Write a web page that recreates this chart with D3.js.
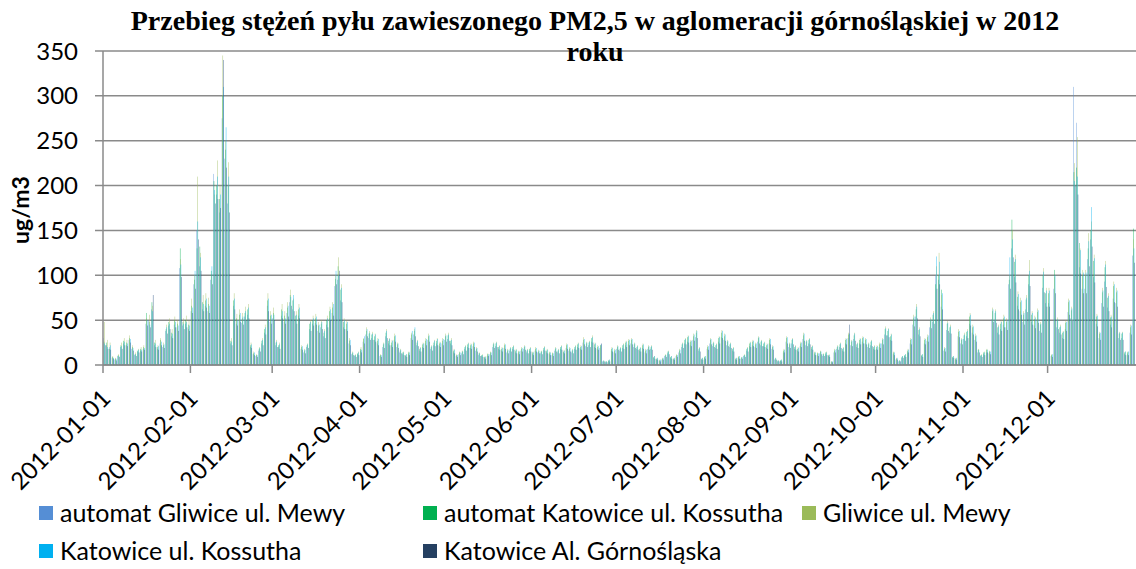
<!DOCTYPE html>
<html>
<head>
<meta charset="utf-8">
<script src="https://cdn.jsdelivr.net/npm/d3@7"></script>
<style>
  body { margin: 0; background: #fff; }
  svg { display: block; }
</style>
</head>
<body>
<svg id="chart" width="1136" height="569"></svg>
<script>
// daily PM2.5 [ug/m3], 2012-01-01 .. 2012-12-31, one row per month
const gliwiceAuto = [
  30,22,20,8,6,10,20,24,22,28,18,11,15,16,18,46,50,62,22,18,24,20,38,44,32,45,42,108,44,46,40,
  60,90,150,110,62,66,60,95,213,190,170,275,230,180,24,66,46,50,47,54,56,20,12,10,16,24,36,66,48,
  52,22,20,55,48,58,70,62,50,55,18,14,20,40,46,47,38,42,32,45,52,58,88,95,72,42,40,24,12,10,12,
  16,26,34,30,30,28,24,10,20,32,24,22,28,20,14,12,10,12,30,34,22,16,20,24,28,18,22,24,21,24,
  28,29,24,14,10,12,13,18,20,19,21,16,11,10,8,10,12,20,21,18,16,19,14,16,18,14,13,16,18,14,16,
  12,16,14,13,17,14,12,11,16,14,18,14,19,16,14,18,20,18,25,21,22,26,20,18,19,4,3,5,16,14,
  18,16,19,22,23,24,20,18,16,19,14,18,18,8,6,5,6,10,13,8,6,10,14,20,24,26,22,28,31,16,6,
  8,18,24,21,19,26,31,28,22,20,16,6,8,7,10,16,21,22,20,26,22,21,19,24,18,6,4,5,14,26,20,
  24,18,16,21,29,22,24,18,12,11,13,10,12,10,3,14,18,20,16,24,30,22,29,20,24,26,24,20,22,18,
  18,20,24,34,33,28,12,6,4,8,10,14,24,45,54,34,10,24,27,42,48,100,95,65,16,39,36,8,6,32,24,
  29,32,46,36,28,14,10,12,14,13,51,50,36,40,45,42,90,130,98,66,60,48,62,90,48,44,50,38,86,69,
  69,10,85,42,36,30,40,59,52,310,270,109,85,85,118,140,98,46,30,69,93,64,45,74,69,30,30,12,12,36,122
];
const katowiceAuto = [
  26,25,18,9,7,11,22,27,25,30,20,12,16,18,20,58,48,70,25,20,28,22,40,48,36,50,46,130,48,50,45,
  66,95,130,132,70,72,68,105,205,200,185,300,240,200,27,72,52,56,52,58,62,22,13,11,18,27,40,72,55,
  58,25,22,62,55,64,78,72,55,62,20,16,22,46,50,52,44,46,36,50,60,64,96,110,84,48,46,27,13,11,13,
  18,29,38,35,34,32,27,11,23,36,27,25,32,23,16,14,11,14,34,38,25,18,23,27,32,20,25,27,24,27,
  32,33,27,16,11,14,15,20,23,22,24,18,13,11,9,12,14,23,24,20,18,22,16,18,20,16,15,18,20,16,18,
  14,18,15,15,19,16,14,13,18,16,20,15,22,18,16,20,23,20,28,24,25,30,23,20,22,4,4,5,18,16,
  20,18,22,25,27,28,23,20,18,22,16,20,20,9,7,5,7,11,15,9,7,11,16,23,28,31,26,32,36,18,7,
  9,20,28,24,22,30,36,32,26,23,18,7,9,8,11,18,24,26,23,30,26,24,22,28,20,7,5,5,16,30,23,
  28,20,18,24,33,26,28,20,14,13,15,12,14,11,4,16,20,23,18,28,34,26,33,23,28,30,28,23,26,20,
  20,23,28,40,38,32,14,7,5,9,11,16,28,52,62,39,11,28,31,50,56,90,100,84,18,46,42,9,7,37,28,
  33,37,54,42,32,17,11,14,17,15,60,58,42,46,52,48,95,162,115,76,70,56,73,100,56,51,59,45,100,80,
  80,11,106,50,42,36,47,70,61,215,220,136,100,100,130,150,116,54,35,81,109,75,53,88,81,35,35,14,14,42,152
];
const gliwiceManual = [
  48,28,25,10,8,12,25,30,28,33,22,14,18,20,22,52,56,66,28,22,30,25,45,52,40,54,50,118,52,55,50,
  74,100,210,125,78,80,75,100,190,228,200,345,250,226,30,80,57,62,58,65,68,25,15,12,20,30,45,80,60,
  64,28,25,68,60,70,84,74,60,68,22,18,24,50,55,57,48,50,40,55,65,70,100,120,90,52,50,30,15,12,15,
  20,30,42,38,37,35,30,12,25,40,30,28,35,25,18,15,12,15,36,40,28,20,25,30,35,22,28,30,26,30,
  35,36,30,18,12,15,16,22,25,24,26,20,14,12,10,13,15,25,26,22,20,24,18,20,22,18,16,20,22,18,20,
  15,20,17,16,21,18,15,14,20,18,22,17,24,20,18,22,25,22,31,26,27,33,25,22,22,5,4,6,20,18,
  22,20,24,27,29,30,25,22,20,24,18,22,22,10,8,6,8,12,16,10,8,12,18,25,30,33,28,35,39,20,8,
  10,22,30,26,24,32,39,35,28,25,20,8,10,9,12,20,26,28,25,32,28,26,24,30,22,8,5,6,18,32,25,
  30,22,20,26,36,28,30,22,15,14,16,13,15,12,4,18,22,25,20,30,36,28,36,25,30,32,30,25,28,22,
  22,25,30,43,41,35,15,8,5,10,12,18,30,56,68,42,12,30,34,53,60,110,125,78,20,49,45,10,8,40,30,
  36,40,58,45,35,18,12,15,18,16,64,62,45,50,56,52,100,150,123,82,75,60,78,117,60,55,63,48,108,86,
  86,12,98,53,45,38,50,74,65,225,254,130,106,106,147,160,123,57,37,86,116,80,56,93,86,37,37,15,15,45,140
];
const katowiceKossutha = [
  24,20,22,8,7,10,21,26,24,29,19,12,17,17,19,50,45,60,24,21,26,23,42,46,35,48,44,112,46,48,44,
  64,105,160,120,68,74,66,110,195,210,190,310,265,210,26,74,50,58,54,60,64,23,14,11,19,28,42,74,56,
  56,26,23,60,52,66,76,78,56,64,21,17,23,48,52,54,45,48,38,52,62,68,105,100,86,50,48,28,14,11,14,
  17,32,40,36,35,34,29,11,24,38,29,27,33,24,17,14,12,14,38,42,27,19,24,29,33,21,27,29,25,29,
  33,34,28,17,11,14,15,21,24,23,25,19,13,11,9,12,14,24,25,21,19,23,17,19,21,17,15,19,21,17,19,
  14,19,16,15,20,17,14,13,19,17,21,16,23,19,17,21,24,21,29,25,26,31,24,21,23,5,4,6,19,17,
  21,19,23,26,28,29,24,21,19,23,17,21,21,10,8,6,8,11,15,10,8,11,17,24,29,32,27,34,38,19,8,
  10,21,29,25,23,31,38,34,27,24,19,8,10,9,11,19,25,27,24,31,27,25,23,29,21,8,5,6,17,31,24,
  29,21,19,25,35,27,29,21,14,13,15,12,14,11,4,17,21,24,19,29,35,27,35,24,29,31,29,24,27,21,
  21,24,29,41,40,34,14,8,5,10,12,17,29,54,65,40,12,29,33,51,58,121,115,80,19,47,43,10,8,38,29,
  34,38,56,43,33,17,11,14,17,15,62,60,43,48,54,50,120,140,118,79,72,58,75,105,58,53,61,46,104,83,
  83,12,100,51,43,37,48,72,63,205,210,128,103,103,138,176,119,55,36,83,112,77,54,90,83,36,36,15,15,44,130
];
const katowiceGornoslaska = [
  22,18,17,7,5,9,18,22,21,25,16,10,14,15,17,44,42,78,20,17,22,19,35,40,30,42,38,98,40,42,38,
  58,85,140,105,60,64,58,90,180,185,175,340,220,170,22,62,44,48,45,50,52,19,11,9,15,22,34,60,46,
  50,20,18,52,46,54,66,60,46,52,17,13,19,38,44,45,36,40,30,42,50,55,90,105,70,40,38,22,11,9,11,
  14,24,32,28,28,26,22,9,19,30,22,20,26,19,13,11,9,11,28,32,21,15,19,22,26,16,21,22,20,22,
  26,27,22,13,9,11,12,16,19,18,20,15,10,9,7,10,11,19,20,17,15,18,13,15,17,13,12,15,17,13,15,
  11,15,13,12,16,13,11,10,15,13,17,13,18,15,13,17,19,17,23,20,20,25,19,17,24,4,3,4,15,13,
  17,15,18,20,22,23,19,17,15,18,13,17,17,7,6,4,6,9,12,7,6,9,13,19,23,25,21,27,30,15,6,
  7,17,23,20,18,24,30,27,21,19,15,6,7,7,9,15,20,21,19,24,21,20,18,23,17,6,4,4,14,24,19,
  23,17,15,20,27,21,23,17,11,10,12,10,11,9,3,14,17,19,15,23,45,21,27,19,23,24,23,19,21,17,
  17,19,23,33,31,27,11,6,4,8,9,14,23,43,52,32,9,23,26,41,46,85,90,62,15,38,35,8,6,31,23,
  27,30,44,34,26,14,9,11,14,12,48,47,34,38,42,39,85,120,92,62,56,45,59,88,45,41,47,36,81,65,
  65,9,80,40,34,29,38,56,49,200,190,102,80,80,110,132,92,43,28,65,87,60,42,70,65,28,28,11,11,34,114
];

const seriesNames = [
  "automat Gliwice ul. Mewy",
  "automat Katowice ul. Kossutha",
  "Gliwice ul. Mewy",
  "Katowice ul. Kossutha",
  "Katowice Al. Górnośląska"
];
const seriesValues = [gliwiceAuto, katowiceAuto, gliwiceManual, katowiceKossutha, katowiceGornoslaska];
const seriesColors = ["#558ED5", "#00B050", "#9BBB59", "#00B0F0", "#1F497D"];
const yTicks = [0, 50, 100, 150, 200, 250, 300, 350];
const monthTicks = ["2012-01-01","2012-02-01","2012-03-01","2012-04-01","2012-05-01","2012-06-01",
  "2012-07-01","2012-08-01","2012-09-01","2012-10-01","2012-11-01","2012-12-01"];

const days = d3.timeDay.range(new Date(2012, 0, 1), new Date(2013, 0, 1));
seriesValues.forEach((s, i) => { if (s.length !== days.length) console.warn(seriesNames[i], s.length); });

const svg = d3.select("#chart");
const plot = { left: 103, right: 1135, top: 51, bottom: 365 };
const fontSans = "Lato, 'Open Sans', sans-serif";

// day bands with a gap between days, like Excel's gap width
const x = d3.scaleBand().domain(d3.range(days.length)).range([plot.left, plot.right]).paddingInner(0.3).paddingOuter(0.15);
const xs = d3.scaleBand().domain(d3.range(seriesNames.length)).range([0, x.bandwidth()]);
const y = d3.scaleLinear().domain([0, 350]).range([plot.bottom, plot.top]);
const dayStart = i => plot.left + i * (plot.right - plot.left) / days.length;

// gridlines + y ticks
svg.append("g")
  .selectAll("line")
  .data(yTicks)
  .join("line")
  .attr("x1", plot.left - 8).attr("x2", 1136)
  .attr("y1", d => y(d)).attr("y2", d => y(d))
  .attr("stroke", "#8a8a8a").attr("stroke-width", 1.5);

svg.append("g")
  .selectAll("text")
  .data(yTicks)
  .join("text")
  .attr("x", 78).attr("y", d => y(d)).attr("dy", "0.36em")
  .attr("text-anchor", "end")
  .style("font-family", fontSans).style("font-size", "24px").attr("fill", "#000")
  .text(d => d);

// bars
const dayGroups = svg.append("g")
  .selectAll("g")
  .data(days.map((d, i) => i))
  .join("g")
  .attr("transform", i => `translate(${x(i)},0)`);

dayGroups.selectAll("rect")
  .data(i => seriesValues.map((s, k) => ({ k, v: s[i] })))
  .join("rect")
  .attr("x", d => xs(d.k))
  .attr("width", xs.bandwidth())
  .attr("y", d => y(d.v || 0))
  .attr("height", d => y(0) - y(d.v || 0))
  .attr("fill", d => seriesColors[d.k]);

// axes lines
svg.append("line")
  .attr("x1", plot.left).attr("x2", plot.left)
  .attr("y1", plot.top).attr("y2", plot.bottom)
  .attr("stroke", "#8a8a8a").attr("stroke-width", 1.5);
svg.append("line")
  .attr("x1", plot.left).attr("x2", 1136)
  .attr("y1", plot.bottom).attr("y2", plot.bottom)
  .attr("stroke", "#8a8a8a").attr("stroke-width", 1.5);

// month ticks and rotated labels
const parseDay = d3.timeParse("%Y-%m-%d");
const tickX = t => dayStart(d3.timeDay.count(days[0], parseDay(t)));

svg.append("g")
  .selectAll("line")
  .data(monthTicks)
  .join("line")
  .attr("x1", tickX).attr("x2", tickX)
  .attr("y1", plot.bottom).attr("y2", plot.bottom + 8)
  .attr("stroke", "#8a8a8a").attr("stroke-width", 1.5);

svg.append("g")
  .selectAll("text")
  .data(monthTicks)
  .join("text")
  .attr("transform", t => `translate(${tickX(t) + 9},${plot.bottom + 35}) rotate(-45)`)
  .attr("text-anchor", "end")
  .style("font-family", fontSans).style("font-size", "24px").attr("fill", "#000")
  .text(t => t);

// title
const title = svg.append("text")
  .attr("text-anchor", "middle")
  .style("font-family", "'Liberation Serif', 'Times New Roman', serif")
  .style("font-size", "28px").style("font-weight", "bold");
title.append("tspan").attr("x", 595).attr("y", 30)
  .text("Przebieg stężeń pyłu zawieszonego PM2,5 w aglomeracji górnośląskiej w 2012");
title.append("tspan").attr("x", 595).attr("y", 61).text("roku");

// y axis title
svg.append("text")
  .attr("transform", "translate(29,210) rotate(-90)")
  .attr("text-anchor", "middle")
  .style("font-family", fontSans).style("font-size", "23px").style("font-weight", "bold")
  .text("ug/m3");

// legend
const legendPos = [[39, 513], [423, 513], [802, 513], [39, 551], [423, 551]];
const legend = svg.append("g")
  .selectAll("g")
  .data(seriesNames)
  .join("g")
  .attr("transform", (d, i) => `translate(${legendPos[i][0]},${legendPos[i][1]})`);
legend.append("rect")
  .attr("x", 0).attr("y", -7).attr("width", 14).attr("height", 14)
  .attr("fill", (d, i) => i === 4 ? "#254061" : seriesColors[i]);
legend.append("text")
  .attr("x", 21).attr("dy", "0.36em")
  .style("font-family", fontSans).style("font-size", "25px")
  .text(d => d);
</script>
</body>
</html>
